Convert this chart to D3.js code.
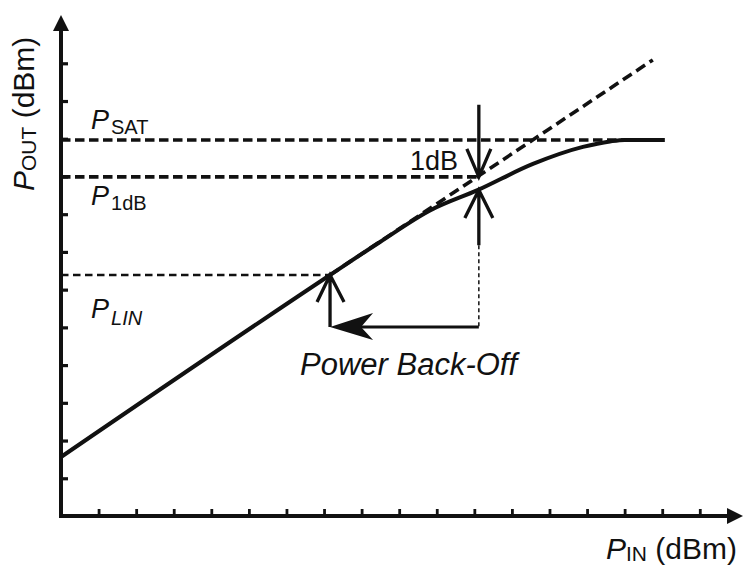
<!DOCTYPE html>
<html><head><meta charset="utf-8">
<script src="https://cdn.jsdelivr.net/npm/d3@7/dist/d3.min.js"></script>
<style>
body{margin:0;background:#fff}
svg{display:block;font-family:Arial,"Liberation Sans",Helvetica,sans-serif}
</style>
</head><body><div id="chart"></div>
<script>
// ---- data (units: tick steps / dB) ----
const pinTicks = d3.range(1, 18);
const poutTicks = d3.range(1, 13);
const curvePin  = [0, 7.16, 8.49, 9.82, 11.10, 12.56, 13.89, 14.61, 15.00, 16.07];
const curvePout = [1.564, 6.389, 7.264, 8.099, 8.643, 9.332, 9.783, 9.928, 9.968, 9.968];
const extrapPin  = [7.16, 15.75];
const extrapPout = [6.389, 12.09];
const pSat = 9.968, p1dB = 8.99, pLin = 6.389;
const pSatEnd = 15.2;
const pin1dB = 11.12, pinLin = 7.16;
const arrowTopPout = 10.9, upArrowBottomPout = 7.18, backoffPout = 5.01;
const xMax = 18.15, yMax = 13.28;

const W = 743, H = 568;
const svg = d3.select("#chart").append("svg").attr("width", W).attr("height", H);
const x = d3.scaleLinear().domain([0, xMax]).range([61, 743]);
const y = d3.scaleLinear().domain([0, yMax]).range([516, 15]);
const ink = "#111";

// axes ticks
svg.append("g").attr("transform", `translate(${x(0)},0)`)
  .call(d3.axisRight(y).tickValues(poutTicks).tickSize(7).tickFormat(""))
  .call(g => { g.select(".domain").remove(); g.selectAll("line").attr("stroke", ink).attr("stroke-width", 3.2); });
svg.append("g").attr("transform", `translate(0,${y(0)})`)
  .call(d3.axisTop(x).tickValues(pinTicks).tickSize(7).tickFormat(""))
  .call(g => { g.select(".domain").remove(); g.selectAll("line").attr("stroke", ink).attr("stroke-width", 2.8); });

// axis lines with arrowheads
svg.append("path").attr("d", `M${x(0)},${y(0)}V${y(yMax)+14}M${x(0)},${y(0)}H${x(xMax)-14}`)
  .attr("stroke", ink).attr("stroke-width", 4).attr("fill", "none").attr("stroke-linecap", "square");
svg.append("path").attr("d", `M${x(0)},${y(yMax)}l-8,16h16z`).attr("fill", ink);
svg.append("path").attr("d", `M${x(xMax)},${y(0)}l-16,-8v16z`).attr("fill", ink);

// dashed reference lines
const hline = (v, x1, w, dash) => svg.append("line")
  .attr("x1", x(0)).attr("x2", x(x1)).attr("y1", y(v)).attr("y2", y(v))
  .attr("stroke", ink).attr("stroke-width", w).attr("stroke-dasharray", dash);
hline(pSat, pSatEnd, 3.6, "9.5,4.5");
hline(p1dB, pin1dB, 3.6, "9.5,4.5");
hline(pLin, pinLin, 2.4, "7.5,4.5");

// linear extrapolation
svg.append("line")
  .attr("x1", x(extrapPin[0])).attr("y1", y(extrapPout[0]))
  .attr("x2", x(extrapPin[1])).attr("y2", y(extrapPout[1]))
  .attr("stroke", ink).attr("stroke-width", 3.6).attr("stroke-dasharray", "10.5,5.5");

// power curve
const pts = curvePin.map((d, i) => [d, curvePout[i]]);
svg.append("path").datum(pts)
  .attr("d", d3.line().x(d => x(d[0])).y(d => y(d[1])).curve(d3.curveMonotoneX))
  .attr("fill", "none").attr("stroke", ink).attr("stroke-width", 4);

// 1dB arrows
const vx = x(pin1dB);
svg.append("path").attr("d",
  `M${vx},${y(arrowTopPout)}V${y(p1dB)}M${vx-12},${y(p1dB)-28}L${vx},${y(p1dB)}L${vx+12},${y(p1dB)-28}`)
  .attr("stroke", ink).attr("stroke-width", 3.3).attr("fill", "none");
const tip2 = y(curvePout[4]);
svg.append("path").attr("d",
  `M${vx},${y(upArrowBottomPout)}V${tip2}M${vx-14},${tip2+28}L${vx},${tip2}L${vx+14},${tip2+28}`)
  .attr("stroke", ink).attr("stroke-width", 3.3).attr("fill", "none");
svg.append("line").attr("x1", vx).attr("x2", vx).attr("y1", y(upArrowBottomPout)).attr("y2", y(backoffPout))
  .attr("stroke", ink).attr("stroke-width", 1.5).attr("stroke-dasharray", "4,3");

// back-off arrow
const lx = x(pinLin), by = y(backoffPout);
svg.append("line").attr("x1", vx).attr("x2", lx + 25).attr("y1", by).attr("y2", by)
  .attr("stroke", ink).attr("stroke-width", 2.8);
svg.append("path").attr("d", `M${lx},${by}L${lx+43},${by-14}L${lx+31},${by}L${lx+43},${by+13}Z`).attr("fill", ink);
const tip3 = y(pLin);
svg.append("path").attr("d",
  `M${lx},${by}V${tip3}M${lx-13},${tip3+27}L${lx},${tip3}L${lx+14},${tip3+27}`)
  .attr("stroke", ink).attr("stroke-width", 3.3).attr("fill", "none");

// labels
function label(px, py, main, sub, subItalic, mainSize, subSize, dy) {
  const t = svg.append("text").attr("x", px).attr("y", py).attr("fill", ink);
  t.append("tspan").attr("font-style", "italic").attr("font-size", mainSize).text(main);
  t.append("tspan").attr("font-style", subItalic ? "italic" : "normal").attr("font-size", subSize)
    .attr("dx", 2).attr("dy", dy).text(sub);
  return t;
}
label(91, 129, "P", "SAT", false, 27, 20, 5);
label(91, 205, "P", "1dB", false, 27, 20, 5);
label(91, 318, "P", "LIN", true, 27, 20, 7);

svg.append("text").attr("x", 458).attr("y", 170).attr("text-anchor", "end")
  .attr("font-size", 27).attr("fill", ink).text("1dB");
svg.append("text").attr("x", 300).attr("y", 375).attr("font-style", "italic")
  .attr("font-size", 31).attr("fill", ink).text("Power Back-Off");

// axis titles
const tx = svg.append("text").attr("x", 737).attr("y", 559).attr("text-anchor", "end").attr("fill", ink);
tx.append("tspan").attr("font-style", "italic").attr("font-size", 30).text("P");
tx.append("tspan").attr("font-size", 21).attr("dy", 2).text("IN");
tx.append("tspan").attr("font-size", 30).attr("dy", -2).text(" (dBm)");

const ty = svg.append("text").attr("transform", "translate(34,191) rotate(-90)").attr("fill", ink);
ty.append("tspan").attr("font-style", "italic").attr("font-size", 30).text("P");
ty.append("tspan").attr("font-size", 21).attr("dy", 2).text("OUT");
ty.append("tspan").attr("font-size", 30).attr("dy", -2).text(" (dBm)");
</script>
</body></html>
